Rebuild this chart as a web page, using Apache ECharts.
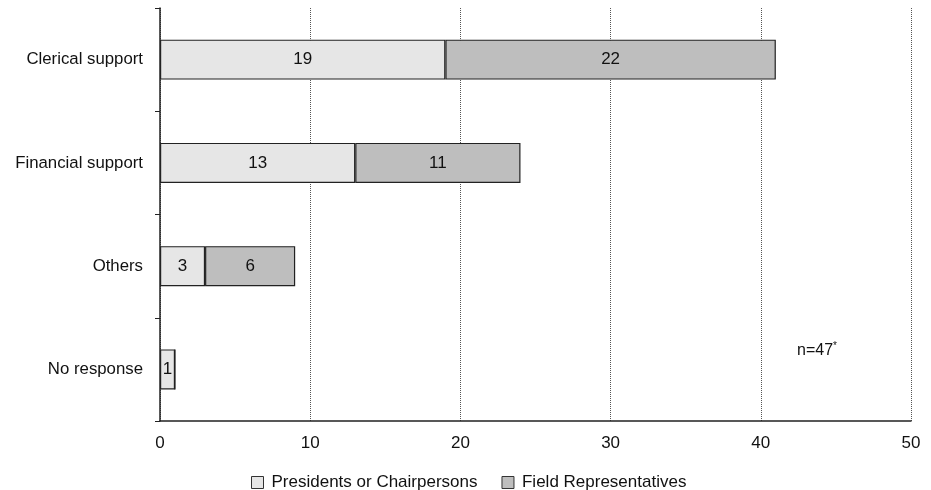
<!DOCTYPE html>
<html><head><meta charset="utf-8">
<script src="https://cdn.jsdelivr.net/npm/echarts@6/dist/echarts.min.js"></script>
<style>html,body{margin:0;padding:0;background:#fff}#c{width:931px;height:490px}</style>
</head><body><div id="c"></div>
<script>
const categories = ['Clerical support', 'Financial support', 'Others', 'No response'];
const presidents = [19, 13, 3, 1];
const fieldReps = [22, 11, 6, 0];
const xTicks = [0, 10, 20, 30, 40, 50];

const chart = echarts.init(document.getElementById('c'));
const font = 'Liberation Sans, Arial, sans-serif';
const lbl = {show: true, position: 'inside', color: '#111', fontSize: 17, fontFamily: font,
  formatter: p => p.value > 0 ? p.value : ''};
chart.setOption({
  animation: false,
  grid: {left: 160, right: 20, top: 8, bottom: 69},
  xAxis: {type: 'value', min: xTicks[0], max: xTicks[xTicks.length-1], interval: 10,
    axisLine: {show: true, lineStyle: {color: '#222', width: 1.5}},
    axisTick: {show: false},
    axisLabel: {color: '#111', fontSize: 17, fontFamily: font, margin: 14},
    splitLine: {show: true, lineStyle: {color: '#555', type: 'dotted', width: 1}}},
  yAxis: {type: 'category', data: categories, inverse: true,
    axisLine: {show: true, lineStyle: {color: '#222', width: 1.5}},
    axisTick: {show: true, length: 5, lineStyle: {color: '#222'}},
    axisLabel: {color: '#111', fontSize: 16.8, fontFamily: font, margin: 17}},
  legend: {top: 469, left: 246, itemWidth: 12, itemHeight: 12, itemGap: 24, icon: 'rect',
    textStyle: {color: '#111', fontSize: 17, fontFamily: font, padding: [0, 0, 0, 3]},
    data: [{name: 'Presidents or Chairpersons', itemStyle: {color: '#e6e6e6', borderColor: '#333', borderWidth: 1}},
           {name: 'Field Representatives', itemStyle: {color: '#bebebe', borderColor: '#333', borderWidth: 1}}]},
  series: [
    {name: 'Presidents or Chairpersons', type: 'bar', stack: 's', barWidth: 40, data: presidents,
      itemStyle: {color: '#e6e6e6', borderColor: '#222', borderWidth: 1.2}, label: lbl},
    {name: 'Field Representatives', type: 'bar', stack: 's', barWidth: 40, data: fieldReps,
      itemStyle: {color: '#bebebe', borderColor: '#222', borderWidth: 1.2}, label: lbl}
  ],
  graphic: [{type: 'text', left: 797, top: 343,
    style: {text: 'n=47', fill: '#111', fontSize: 16, fontFamily: font}},
    {type: 'text', left: 833, top: 341, style: {text: '*', fill: '#111', fontSize: 10, fontFamily: font}}]
});
</script></body></html>
